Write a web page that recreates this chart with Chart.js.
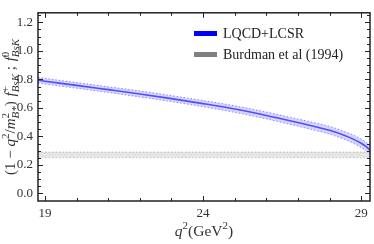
<!DOCTYPE html>
<html><head><meta charset="utf-8">
<script src="https://cdn.jsdelivr.net/npm/chart.js@4/dist/chart.umd.min.js"></script>
<style>html,body{margin:0;padding:0;background:#fff}#wrap{width:374px;height:244px;position:relative}</style>
</head><body><div id="wrap"><canvas id="c"></canvas></div>
<script>
// ---- data ----
const qsq     = [18.78, 19, 20, 21, 22, 23, 24, 25, 26, 27, 27.5, 28, 28.5, 28.75, 29, 29.15, 29.28];
const central = [0.794, 0.787, 0.758, 0.728, 0.698, 0.665, 0.630, 0.592, 0.547, 0.497, 0.471, 0.443, 0.405, 0.381, 0.352, 0.330, 0.303];
const err     = [0.020, 0.020, 0.020, 0.020, 0.021, 0.021, 0.022, 0.023, 0.024, 0.025, 0.026, 0.027, 0.028, 0.029, 0.030, 0.031, 0.032];
const burdmanQsq  = [18.78, 29.28];
const burdmanLow  = [0.25, 0.25];
const burdmanHigh = [0.29, 0.29];
const xTickLabels = [19, 24, 29];
const yTickLabels = [0.0, 0.2, 0.4, 0.6, 0.8, 1.0, 1.2];
const legendLabels = ["LQCD+LCSR", "Burdman et al (1994)"];

const pts = (xs, ys) => xs.map((x, i) => ({x, y: ys[i]}));
const upper = central.map((v, i) => v + err[i]);
const lower = central.map((v, i) => v - err[i]);

const SERIF = '"Liberation Serif", "DejaVu Serif", serif';

function richWidth(ctx, segs, size) {
  let w = 0;
  for (const s of segs) {
    ctx.font = (s.it ? 'italic ' : '') + size + 'px ' + SERIF;
    let bw = ctx.measureText(s.t).width;
    let ew = 0;
    if (s.sup) { ctx.font = Math.round(size*0.7) + 'px ' + SERIF; ew = Math.max(ew, ctx.measureText(s.sup).width); }
    if (s.sub) { ctx.font = (s.subIt ? 'italic ' : '') + Math.round(size*0.7) + 'px ' + SERIF; ew = Math.max(ew, ctx.measureText(s.sub).width); }
    w += bw + ew + (s.sp || 0);
  }
  return w;
}
function richDraw(ctx, segs, size, x0, y0) {
  let x = x0;
  for (const s of segs) {
    ctx.font = (s.it ? 'italic ' : '') + size + 'px ' + SERIF;
    ctx.fillText(s.t, x, y0);
    let bw = ctx.measureText(s.t).width;
    x += bw;
    let ew = 0;
    const small = Math.round(size*0.7);
    if (s.sup) { ctx.font = small + 'px ' + SERIF; ctx.fillText(s.sup, x, y0 - size*0.42); ew = Math.max(ew, ctx.measureText(s.sup).width); }
    if (s.sub) { ctx.font = (s.subIt ? 'italic ' : '') + small + 'px ' + SERIF; ctx.fillText(s.sub, x, y0 + size*0.25); ew = Math.max(ew, ctx.measureText(s.sub).width); }
    x += ew + (s.sp || 0);
  }
}

const yTitle = [
  {t:'(1 − '}, {t:'q', it:true, sup:'2'}, {t:'/'}, {t:'m', it:true, sup:'2', sub:'B*', subIt:true}, {t:') ', sp:1},
  {t:'f', it:true, sup:'+', sub:'BsK', subIt:true}, {t:' ; ', sp:1}, {t:'f', it:true, sup:'0', sub:'BsK', subIt:true}
];
const xTitle = [{t:'q', it:true, sup:'2'}, {t:'(GeV'}, {t:'', sup:'2'}, {t:')'}];

const deco = {
  id: 'deco',
  afterDraw(chart) {
    const ctx = chart.ctx, a = chart.chartArea, xs = chart.scales.x, ys = chart.scales.y;
    ctx.save();
    ctx.strokeStyle = '#222'; ctx.lineWidth = 1;
    ctx.beginPath();
    for (let q = 19; q <= 29; q++) {
      const px = Math.round(xs.getPixelForValue(q)) + 0.5;
      const L = (q === 19 || q === 24 || q === 29) ? 5 : 3;
      ctx.moveTo(px, a.bottom); ctx.lineTo(px, a.bottom - L);
      ctx.moveTo(px, a.top); ctx.lineTo(px, a.top + L);
    }
    for (let k = 0; k <= 25; k++) {
      const v = k * 0.05;
      const py = Math.round(ys.getPixelForValue(v)) + 0.5;
      const L = (k % 4 === 0) ? 5 : 3;
      ctx.moveTo(a.left, py); ctx.lineTo(a.left + L, py);
      ctx.moveTo(a.right, py); ctx.lineTo(a.right - L, py);
    }
    ctx.stroke();
    ctx.lineWidth = 1.5;
    ctx.strokeRect(a.left, a.top, a.right - a.left, a.bottom - a.top);
    // legend
    ctx.fillStyle = '#0000ff'; ctx.fillRect(194, 31, 23, 5);
    ctx.fillStyle = '#808080'; ctx.fillRect(194, 52, 23, 5);
    ctx.fillStyle = '#222'; ctx.textBaseline = 'alphabetic'; ctx.textAlign = 'left';
    ctx.font = '14px ' + SERIF;
    ctx.fillText(legendLabels[0], 223, 38);
    ctx.fillText(legendLabels[1], 223, 59);
    // x title
    const sz = 15.5;
    const wx = richWidth(ctx, xTitle, sz);
    ctx.fillStyle = '#333';
    richDraw(ctx, xTitle, sz, (a.left + a.right) / 2 - wx / 2, 236);
    // y title
    const sy = 15;
    const wy = richWidth(ctx, yTitle, sy);
    ctx.translate(15, (a.top + a.bottom) / 2 + wy / 2);
    ctx.rotate(-Math.PI / 2);
    richDraw(ctx, yTitle, sy, 0, 0);
    ctx.restore();
  }
};

new Chart(document.getElementById('c'), {
  type: 'line',
  data: {
    datasets: [
      { data: pts(burdmanQsq, burdmanHigh), borderColor: 'rgba(170,170,170,0.8)', borderWidth: 1, borderDash: [1.5, 2], backgroundColor: 'rgba(225,225,225,0.85)', fill: '+1', pointRadius: 0 },
      { data: pts(burdmanQsq, burdmanLow), borderColor: 'rgba(170,170,170,0.8)', borderWidth: 1, borderDash: [1.5, 2], fill: false, pointRadius: 0 },
      { data: pts(qsq, upper), borderColor: 'rgba(110,110,255,0.8)', borderWidth: 1, borderDash: [1.5, 2], backgroundColor: 'rgba(150,150,255,0.4)', fill: '+1', pointRadius: 0, cubicInterpolationMode: 'monotone' },
      { data: pts(qsq, lower), borderColor: 'rgba(110,110,255,0.8)', borderWidth: 1, borderDash: [1.5, 2], fill: false, pointRadius: 0, cubicInterpolationMode: 'monotone' },
      { data: pts(qsq, central), borderColor: '#2020ff', borderWidth: 1.6, fill: false, pointRadius: 0, cubicInterpolationMode: 'monotone' }
    ]
  },
  options: {
    responsive: true, maintainAspectRatio: false, animation: false,
    layout: { padding: { top: 3, right: 4, left: 0, bottom: 0 } },
    plugins: { legend: { display: false }, tooltip: { enabled: false } },
    scales: {
      x: {
        type: 'linear', min: 18.78, max: 29.28,
        afterBuildTicks: s => { s.ticks = xTickLabels.map(v => ({value: v})); },
        afterFit: s => { s.height = 43; },
        grid: { display: false, drawTicks: false }, border: { display: false },
        ticks: { font: { family: SERIF, size: 13 }, color: '#333', padding: 5, maxRotation: 0, callback: v => String(v) }
      },
      y: {
        min: -0.053, max: 1.267,
        afterBuildTicks: s => { s.ticks = yTickLabels.map(v => ({value: v})); },
        afterFit: s => { s.width = 38; },
        grid: { display: false, drawTicks: false }, border: { display: false },
        ticks: { font: { family: SERIF, size: 13 }, color: '#333', padding: 5, callback: v => v.toFixed(1) }
      }
    }
  },
  plugins: [deco]
});
</script></body></html>
